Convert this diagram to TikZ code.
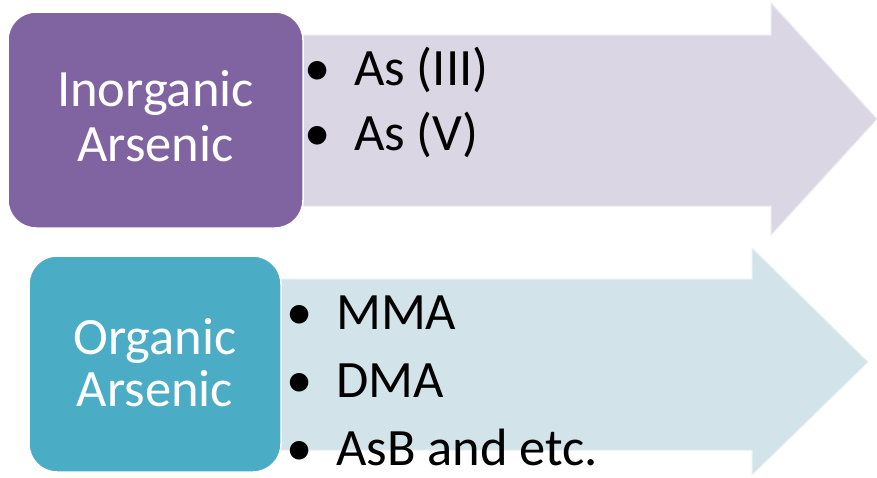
\documentclass[tikz,border=0pt]{standalone}
\usepackage{fontspec}
\setmainfont{Carlito}
\definecolor{inorgpurple}{RGB}{128, 100, 162}
\definecolor{inorglilac}{RGB}{218, 214, 227}
\definecolor{orgteal}{RGB}{75, 172, 198}
\definecolor{orgpale}{RGB}{211, 227, 234}

\begin{document}
\begin{tikzpicture}[x=1pt, y=-1pt,
  catbox/.style={draw=white, line width=1.5pt, rounded corners=28pt, text=white,
                 align=center, inner sep=0pt},
  band/.style={line width=1pt},
  item/.style={anchor=base west, inner sep=0pt, font=\fontsize{52.5}{62}\selectfont},
  dot/.style={anchor=base, inner sep=0pt, font=\fontsize{52.5}{62}\selectfont},
]
\useasboundingbox (0,0) rectangle (877,477);

% Inorganic arsenic
\fill[band, inorglilac, draw=inorglilac!50!white]
  (290,35) -- (771,35) -- (771,3) -- (877,119) -- (771,235) -- (771,206) -- (290,206) -- cycle;
\node[catbox, fill=inorgpurple, minimum width=295, minimum height=216] (inorg) at (155.5,120) {};
\node[text=white, align=center, inner sep=0pt, font=\fontsize{52.5}{55}\selectfont]
  (inorgtxt) at (155.5,116.5) {Inorganic\\Arsenic};

\node[dot] (b1) at (318,85) {•};
\node[item] (as3) at (354,85) {As (III)};
\node[dot] (b2) at (318,150) {•};
\node[item] (as5) at (354,150) {As (V)};

% Organic arsenic
\fill[band, orgpale, draw=orgpale!50!white]
  (270,279) -- (752,279) -- (752,248) -- (868,362) -- (752,475) -- (752,450) -- (270,450) -- cycle;
\node[catbox, fill=orgteal, minimum width=252, minimum height=216] (org) at (155,364) {};
\node[text=white, align=center, inner sep=0pt, font=\fontsize{52.5}{52}\selectfont]
  (orgtxt) at (155,362.5) {Organic\\Arsenic};

\node[dot] (b3) at (300,329) {•};
\node[item] (mma) at (336,329) {MMA};
\node[dot] (b4) at (300,397) {•};
\node[item] (dma) at (336,397) {DMA};
\node[dot] (b5) at (300,465) {•};
\node[item] (asb) at (336,465) {AsB and etc.};
\end{tikzpicture}
\end{document}
